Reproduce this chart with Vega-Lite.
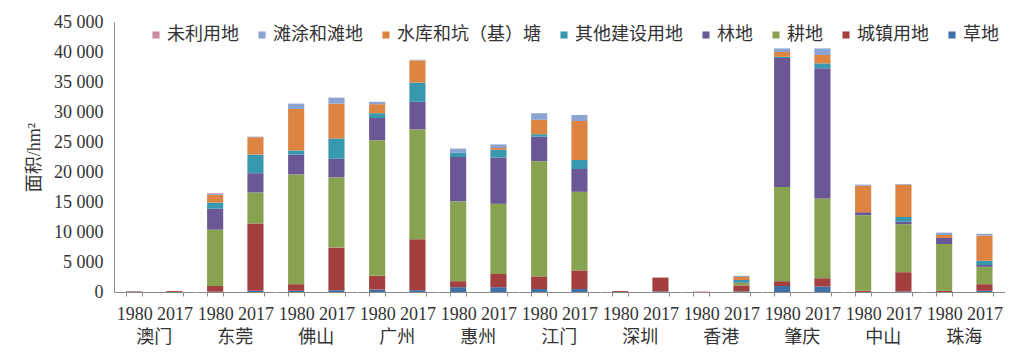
{
  "$schema": "https://vega.github.io/schema/vega-lite/v6.json",
  "padding": {"left": 25, "top": 13, "right": 5, "bottom": 5},
  "background": "white",
  "data": {"values": [
    {"city": "澳门", "year": "1980", "type": "城镇用地", "area": 100},
    {"city": "澳门", "year": "1980", "type": "滩涂和滩地", "area": 50},
    {"city": "澳门", "year": "2017", "type": "城镇用地", "area": 150},
    {"city": "东莞", "year": "1980", "type": "草地", "area": 50},
    {"city": "东莞", "year": "1980", "type": "城镇用地", "area": 950},
    {"city": "东莞", "year": "1980", "type": "耕地", "area": 9400},
    {"city": "东莞", "year": "1980", "type": "林地", "area": 3500},
    {"city": "东莞", "year": "1980", "type": "其他建设用地", "area": 1000},
    {"city": "东莞", "year": "1980", "type": "水库和坑（基）塘", "area": 1300},
    {"city": "东莞", "year": "1980", "type": "滩涂和滩地", "area": 200},
    {"city": "东莞", "year": "1980", "type": "未利用地", "area": 100},
    {"city": "东莞", "year": "2017", "type": "草地", "area": 200},
    {"city": "东莞", "year": "2017", "type": "城镇用地", "area": 11200},
    {"city": "东莞", "year": "2017", "type": "耕地", "area": 5200},
    {"city": "东莞", "year": "2017", "type": "林地", "area": 3200},
    {"city": "东莞", "year": "2017", "type": "其他建设用地", "area": 3100},
    {"city": "东莞", "year": "2017", "type": "水库和坑（基）塘", "area": 2900},
    {"city": "东莞", "year": "2017", "type": "滩涂和滩地", "area": 100},
    {"city": "佛山", "year": "1980", "type": "草地", "area": 200},
    {"city": "佛山", "year": "1980", "type": "城镇用地", "area": 1100},
    {"city": "佛山", "year": "1980", "type": "耕地", "area": 18300},
    {"city": "佛山", "year": "1980", "type": "林地", "area": 3300},
    {"city": "佛山", "year": "1980", "type": "其他建设用地", "area": 700},
    {"city": "佛山", "year": "1980", "type": "水库和坑（基）塘", "area": 6900},
    {"city": "佛山", "year": "1980", "type": "滩涂和滩地", "area": 900},
    {"city": "佛山", "year": "2017", "type": "草地", "area": 300},
    {"city": "佛山", "year": "2017", "type": "城镇用地", "area": 7100},
    {"city": "佛山", "year": "2017", "type": "耕地", "area": 11700},
    {"city": "佛山", "year": "2017", "type": "林地", "area": 3100},
    {"city": "佛山", "year": "2017", "type": "其他建设用地", "area": 3400},
    {"city": "佛山", "year": "2017", "type": "水库和坑（基）塘", "area": 5800},
    {"city": "佛山", "year": "2017", "type": "滩涂和滩地", "area": 1000},
    {"city": "广州", "year": "1980", "type": "草地", "area": 400},
    {"city": "广州", "year": "1980", "type": "城镇用地", "area": 2300},
    {"city": "广州", "year": "1980", "type": "耕地", "area": 22600},
    {"city": "广州", "year": "1980", "type": "林地", "area": 3700},
    {"city": "广州", "year": "1980", "type": "其他建设用地", "area": 800},
    {"city": "广州", "year": "1980", "type": "水库和坑（基）塘", "area": 1500},
    {"city": "广州", "year": "1980", "type": "滩涂和滩地", "area": 400},
    {"city": "广州", "year": "2017", "type": "草地", "area": 300},
    {"city": "广州", "year": "2017", "type": "城镇用地", "area": 8500},
    {"city": "广州", "year": "2017", "type": "耕地", "area": 18300},
    {"city": "广州", "year": "2017", "type": "林地", "area": 4600},
    {"city": "广州", "year": "2017", "type": "其他建设用地", "area": 3200},
    {"city": "广州", "year": "2017", "type": "水库和坑（基）塘", "area": 3700},
    {"city": "广州", "year": "2017", "type": "滩涂和滩地", "area": 100},
    {"city": "惠州", "year": "1980", "type": "草地", "area": 800},
    {"city": "惠州", "year": "1980", "type": "城镇用地", "area": 1000},
    {"city": "惠州", "year": "1980", "type": "耕地", "area": 13300},
    {"city": "惠州", "year": "1980", "type": "林地", "area": 7400},
    {"city": "惠州", "year": "1980", "type": "其他建设用地", "area": 700},
    {"city": "惠州", "year": "1980", "type": "滩涂和滩地", "area": 700},
    {"city": "惠州", "year": "2017", "type": "草地", "area": 800},
    {"city": "惠州", "year": "2017", "type": "城镇用地", "area": 2200},
    {"city": "惠州", "year": "2017", "type": "耕地", "area": 11700},
    {"city": "惠州", "year": "2017", "type": "林地", "area": 7700},
    {"city": "惠州", "year": "2017", "type": "其他建设用地", "area": 1300},
    {"city": "惠州", "year": "2017", "type": "水库和坑（基）塘", "area": 300},
    {"city": "惠州", "year": "2017", "type": "滩涂和滩地", "area": 600},
    {"city": "江门", "year": "1980", "type": "草地", "area": 500},
    {"city": "江门", "year": "1980", "type": "城镇用地", "area": 2100},
    {"city": "江门", "year": "1980", "type": "耕地", "area": 19200},
    {"city": "江门", "year": "1980", "type": "林地", "area": 4100},
    {"city": "江门", "year": "1980", "type": "其他建设用地", "area": 400},
    {"city": "江门", "year": "1980", "type": "水库和坑（基）塘", "area": 2400},
    {"city": "江门", "year": "1980", "type": "滩涂和滩地", "area": 1100},
    {"city": "江门", "year": "2017", "type": "草地", "area": 500},
    {"city": "江门", "year": "2017", "type": "城镇用地", "area": 3100},
    {"city": "江门", "year": "2017", "type": "耕地", "area": 13100},
    {"city": "江门", "year": "2017", "type": "林地", "area": 3800},
    {"city": "江门", "year": "2017", "type": "其他建设用地", "area": 1500},
    {"city": "江门", "year": "2017", "type": "水库和坑（基）塘", "area": 6500},
    {"city": "江门", "year": "2017", "type": "滩涂和滩地", "area": 1000},
    {"city": "深圳", "year": "1980", "type": "城镇用地", "area": 150},
    {"city": "深圳", "year": "2017", "type": "草地", "area": 100},
    {"city": "深圳", "year": "2017", "type": "城镇用地", "area": 2300},
    {"city": "香港", "year": "1980", "type": "城镇用地", "area": 50},
    {"city": "香港", "year": "2017", "type": "草地", "area": 100},
    {"city": "香港", "year": "2017", "type": "城镇用地", "area": 1000},
    {"city": "香港", "year": "2017", "type": "耕地", "area": 400},
    {"city": "香港", "year": "2017", "type": "林地", "area": 100},
    {"city": "香港", "year": "2017", "type": "其他建设用地", "area": 400},
    {"city": "香港", "year": "2017", "type": "水库和坑（基）塘", "area": 500},
    {"city": "香港", "year": "2017", "type": "滩涂和滩地", "area": 200},
    {"city": "肇庆", "year": "1980", "type": "草地", "area": 1000},
    {"city": "肇庆", "year": "1980", "type": "城镇用地", "area": 800},
    {"city": "肇庆", "year": "1980", "type": "耕地", "area": 15700},
    {"city": "肇庆", "year": "1980", "type": "林地", "area": 21500},
    {"city": "肇庆", "year": "1980", "type": "其他建设用地", "area": 200},
    {"city": "肇庆", "year": "1980", "type": "水库和坑（基）塘", "area": 800},
    {"city": "肇庆", "year": "1980", "type": "滩涂和滩地", "area": 600},
    {"city": "肇庆", "year": "2017", "type": "草地", "area": 900},
    {"city": "肇庆", "year": "2017", "type": "城镇用地", "area": 1400},
    {"city": "肇庆", "year": "2017", "type": "耕地", "area": 13300},
    {"city": "肇庆", "year": "2017", "type": "林地", "area": 21700},
    {"city": "肇庆", "year": "2017", "type": "其他建设用地", "area": 800},
    {"city": "肇庆", "year": "2017", "type": "水库和坑（基）塘", "area": 1400},
    {"city": "肇庆", "year": "2017", "type": "滩涂和滩地", "area": 1100},
    {"city": "中山", "year": "1980", "type": "城镇用地", "area": 200},
    {"city": "中山", "year": "1980", "type": "耕地", "area": 12600},
    {"city": "中山", "year": "1980", "type": "林地", "area": 500},
    {"city": "中山", "year": "1980", "type": "水库和坑（基）塘", "area": 4400},
    {"city": "中山", "year": "1980", "type": "滩涂和滩地", "area": 200},
    {"city": "中山", "year": "2017", "type": "草地", "area": 100},
    {"city": "中山", "year": "2017", "type": "城镇用地", "area": 3200},
    {"city": "中山", "year": "2017", "type": "耕地", "area": 8000},
    {"city": "中山", "year": "2017", "type": "林地", "area": 400},
    {"city": "中山", "year": "2017", "type": "其他建设用地", "area": 800},
    {"city": "中山", "year": "2017", "type": "水库和坑（基）塘", "area": 5400},
    {"city": "中山", "year": "2017", "type": "滩涂和滩地", "area": 100},
    {"city": "珠海", "year": "1980", "type": "城镇用地", "area": 200},
    {"city": "珠海", "year": "1980", "type": "耕地", "area": 7800},
    {"city": "珠海", "year": "1980", "type": "林地", "area": 1000},
    {"city": "珠海", "year": "1980", "type": "水库和坑（基）塘", "area": 500},
    {"city": "珠海", "year": "1980", "type": "滩涂和滩地", "area": 400},
    {"city": "珠海", "year": "2017", "type": "草地", "area": 200},
    {"city": "珠海", "year": "2017", "type": "城镇用地", "area": 1100},
    {"city": "珠海", "year": "2017", "type": "耕地", "area": 2900},
    {"city": "珠海", "year": "2017", "type": "林地", "area": 300},
    {"city": "珠海", "year": "2017", "type": "其他建设用地", "area": 700},
    {"city": "珠海", "year": "2017", "type": "水库和坑（基）塘", "area": 4200},
    {"city": "珠海", "year": "2017", "type": "滩涂和滩地", "area": 300}
  ]},
  "transform": [
    {"calculate": "indexof(['草地','城镇用地','耕地','林地','其他建设用地','水库和坑（基）塘','滩涂和滩地','未利用地'], datum.type)", "as": "stackRank"}
  ],
  "facet": {
    "column": {
      "field": "city",
      "type": "nominal",
      "title": null,
      "sort": ["澳门", "东莞", "佛山", "广州", "惠州", "江门", "深圳", "香港", "肇庆", "中山", "珠海"],
      "header": {"labelOrient": "bottom", "labelFontSize": 18, "labelPadding": 6, "labelColor": "#333"}
    }
  },
  "spacing": 0,
  "spec": {
    "width": 80.6,
    "height": 270,
    "mark": {"type": "bar"},
    "encoding": {
      "x": {
        "field": "year",
        "type": "nominal",
        "scale": {"paddingInner": 0.6, "paddingOuter": 0.3},
        "axis": {"title": null, "labelAngle": 0, "labelFontSize": 18, "labelColor": "#333", "domainColor": "#8a8a8a", "tickColor": "#8a8a8a", "tickSize": 4, "tickBand": "extent", "labelPadding": 9}
      },
      "y": {
        "field": "area",
        "type": "quantitative",
        "aggregate": "sum",
        "stack": "zero",
        "scale": {"domain": [0, 45000]},
        "axis": {"title": "面积/hm²", "values": [0, 5000, 10000, 15000, 20000, 25000, 30000, 35000, 40000, 45000], "labelExpr": "replace(format(datum.value, ','), ',', ' ')", "ticks": false, "grid": false, "labelFontSize": 18, "labelColor": "#333", "labelPadding": 11, "titleFontSize": 18, "titleFontWeight": "normal", "titleColor": "#333", "titlePadding": 10, "domainColor": "#8a8a8a"}
      },
      "color": {
        "field": "type",
        "type": "nominal",
        "scale": {
          "domain": ["未利用地", "滩涂和滩地", "水库和坑（基）塘", "其他建设用地", "林地", "耕地", "城镇用地", "草地"],
          "range": ["#c98ba0", "#8ba4d2", "#dd8442", "#3898ad", "#6b5795", "#87a34f", "#a33f3f", "#3f70a9"]
        },
        "legend": {"title": null, "orient": "none", "legendX": 33, "legendY": 4, "direction": "horizontal", "symbolType": "square", "symbolSize": 50, "labelFontSize": 18, "labelColor": "#333", "columnPadding": 14, "labelOffset": 2}
      },
      "order": {"field": "stackRank", "type": "quantitative", "sort": "ascending"}
    }
  },
  "config": {
    "view": {"stroke": null},
    "font": "Liberation Serif, Noto Sans CJK SC"
  }
}
